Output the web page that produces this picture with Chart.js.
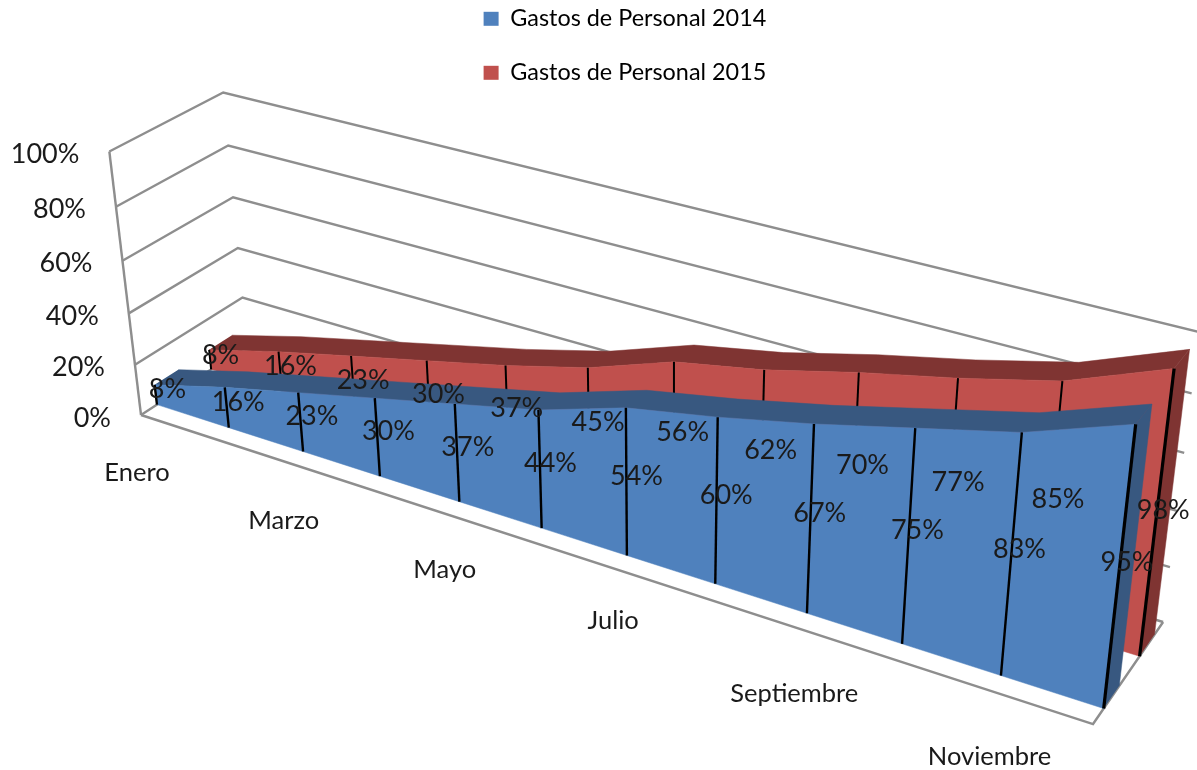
<!DOCTYPE html>
<html>
<head>
<meta charset="utf-8">
<script src="https://cdn.jsdelivr.net/npm/chart.js"></script>
<style>
  body { margin: 0; background: #fff; }
  canvas { display: block; }
</style>
</head>
<body>
<canvas id="myChart" width="1197" height="770"></canvas>
<script>
// Data
const months = ['Enero', 'Febrero', 'Marzo', 'Abril', 'Mayo', 'Junio', 'Julio', 'Agosto', 'Septiembre', 'Octubre', 'Noviembre', 'Diciembre'];
const gastos2014 = [8, 16, 23, 30, 37, 44, 54, 60, 67, 75, 83, 95];
const gastos2015 = [8, 16, 23, 30, 37, 45, 56, 62, 70, 77, 85, 98];
const yTicks = [0, 20, 40, 60, 80, 100];

// Camera of the 3D box: u along months, v along percent, w along depth (all 0..1)
function project(u, v, w) {
  const d = 1 - 0.18 * u - 0.058 * v + 0.053 * w;
  return {
    x: (755.3 * u - 38 * v + 119.1 * w + 141) / d,
    y: (178.7 * u - 272.3 * v - 50.7 * w + 415) / d
  };
}
const monthU = i => i / (months.length - 1);

// Series slabs
const depth2014 = [0.144, 0.36];
const depth2015 = [0.65, 0.87];
// Month label offsets from the floor edge, the original steps them
const monthDrop = [58, 58, 56, 53, 67, 66];
const monthNudge = [-4, -4, 0, 0, 0, 0];

const datasets = [];
function addLine(points, color, width) {
  datasets.push({ data: points, borderColor: color, borderWidth: width, pointRadius: 0, fill: false, tension: 0, clip: false });
}
function addFace(points, color) {
  datasets.push({ data: points, backgroundColor: color, borderColor: color, borderWidth: 0.5, pointRadius: 0, fill: 'shape', tension: 0, clip: false });
}

// Walls and floor
const gridGray = '#8e8e8e';
yTicks.forEach(t => {
  const v = t / 100;
  addLine([project(0, v, 0), project(0, v, 1), project(1, v, 1)], gridGray, 2.4);
});
addLine([project(0, 0, 0), project(0, 1, 0)], gridGray, 2.4);
addLine([project(0, 0, 0), project(1, 0, 0), project(1, 0, 1)], gridGray, 2.4);

function addSeries(values, range, front, dark, dropWidth) {
  const [w0, w1] = range;
  const frontTop = values.map((p, i) => project(monthU(i), p / 100, w0));
  const backTop = values.map((p, i) => project(monthU(i), p / 100, w1));
  const frontBase = values.map((p, i) => project(monthU(i), 0, w0));
  const last = values.length - 1;
  const lastV = values[last] / 100;
  addFace([project(1, 0, w0), project(1, lastV, w0), project(1, lastV, w1), project(1, 0, w1)], dark);
  addFace(frontTop.concat(backTop.slice().reverse()), dark);
  addFace(frontTop.concat(frontBase.slice().reverse()), front);
  values.forEach((p, i) => addLine([frontBase[i], frontTop[i]], '#000', i === last ? 3.2 : dropWidth));
}
addSeries(gastos2015, depth2015, '#C0504D', '#7F3432', 2);
addSeries(gastos2014, depth2014, '#4F81BD', '#385880', 2.4);

// first dataset is painted on top by chart.js, keep the list in painter's order
datasets.forEach((d, i) => { d.order = datasets.length - i; });

const textPlugin = {
  id: 'boxText',
  beforeDraw(chart) {
    // legend has no reserved room, put it above the box
    chart.legend.left = 453;
    chart.legend.top = -23.5;
  },
  afterDatasetsDraw(chart) {
    const { ctx } = chart;
    const sx = chart.scales.x;
    const sy = chart.scales.y;
    const at = p => ({ x: sx.getPixelForValue(p.x), y: sy.getPixelForValue(p.y) });
    ctx.save();
    ctx.fillStyle = '#1a1a1a';
    ctx.textBaseline = 'middle';

    ctx.font = '27px Lato';
    ctx.textAlign = 'right';
    yTicks.forEach(t => {
      const p = at(project(0, t / 100, 0));
      ctx.fillText(t + '%', p.x - 30, p.y + 3);
    });

    ctx.font = '25.5px Lato';
    ctx.textAlign = 'center';
    months.filter((m, i) => i % 2 === 0).forEach((m, k) => {
      const p = at(project(monthU(k * 2), 0, 0));
      ctx.fillText(m, p.x + monthNudge[k], p.y + monthDrop[k]);
    });

    ctx.font = '27px Lato';
    [[gastos2015, 0.75], [gastos2014, 0.25]].forEach(([values, w]) => {
      values.forEach((val, i) => {
        const p = at(project(monthU(i), val / 200, w));
        ctx.fillText(val + '%', p.x, p.y + 2);
      });
    });
    ctx.restore();
  }
};

const config = {
  type: 'line',
  data: { datasets: datasets },
  plugins: [textPlugin],
  options: {
    responsive: false,
    animation: false,
    layout: { padding: 0 },
    scales: {
      x: { type: 'linear', display: false, min: 0, max: 1197 },
      y: { type: 'linear', display: false, reverse: true, min: 0, max: 770 }
    },
    plugins: {
      tooltip: { enabled: false },
      legend: {
        position: 'chartArea',
        align: 'start',
        labels: {
          color: '#1a1a1a',
          font: { family: 'Lato', size: 23.4 },
          boxWidth: 15,
          boxHeight: 14,
          padding: 30.6,
          generateLabels: () => [
            { text: 'Gastos de Personal 2014', fillStyle: '#4F81BD', strokeStyle: '#4F81BD', lineWidth: 0 },
            { text: 'Gastos de Personal 2015', fillStyle: '#C0504D', strokeStyle: '#C0504D', lineWidth: 0 }
          ]
        }
      }
    }
  }
};

const myChart = new Chart(document.getElementById('myChart'), config);
</script>
</body>
</html>
